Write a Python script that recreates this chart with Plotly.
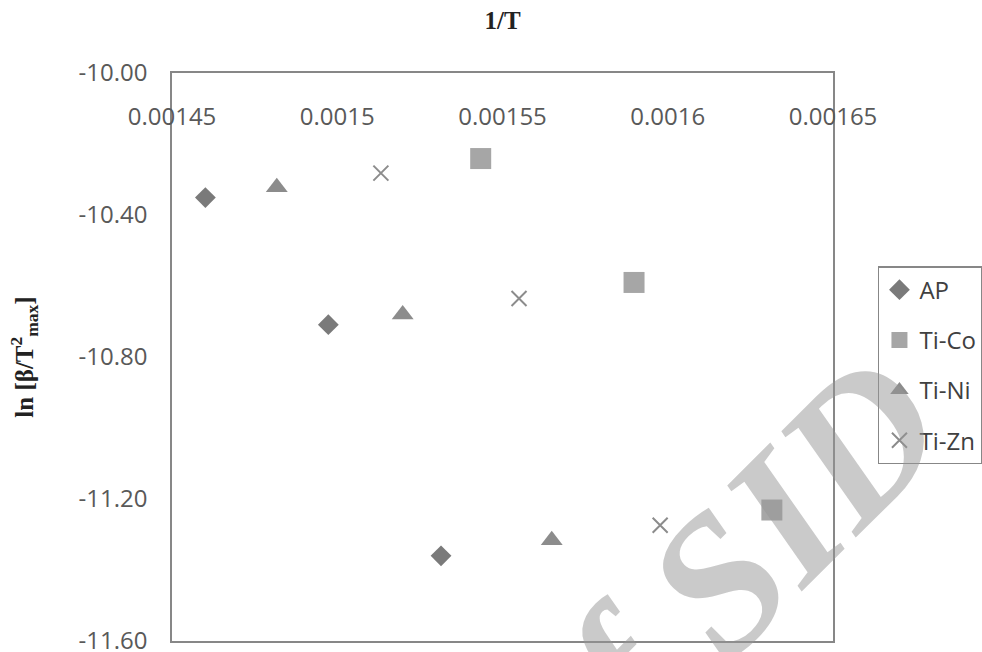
import plotly.graph_objects as go

# Kinetic data: inverse peak temperature vs ln(beta / Tmax^2)
series_names = ["AP", "Ti-Co", "Ti-Ni", "Ti-Zn"]

ap_x = [0.0014601, 0.0014973, 0.0015314]
ap_y = [-10.351, -10.709, -11.360]

tico_x = [0.0015434, 0.0015898, 0.0016315]
tico_y = [-10.241, -10.590, -11.231]

tini_x = [0.0014817, 0.0015198, 0.0015649]
tini_y = [-10.322, -10.680, -11.316]

tizn_x = [0.0015132, 0.0015550, 0.0015977]
tizn_y = [-10.282, -10.635, -11.274]

x_tick_vals = [0.00145, 0.0015, 0.00155, 0.0016, 0.00165]
x_tick_text = ["0.00145", "0.0015", "0.00155", "0.0016", "0.00165"]
y_tick_vals = [-10.0, -10.4, -10.8, -11.2, -11.6]
y_tick_text = ["-10.00", "-10.40", "-10.80", "-11.20", "-11.60"]

label_font = dict(family="Open Sans, Lato, sans-serif", size=24, color="#595959")
title_font = dict(family="Liberation Serif, Times New Roman, serif", size=25, color="#222222")
frame_color = "#878787"

fig = go.Figure()

styles = [
    dict(symbol="diamond", size=16, color="#7a7a7a"),
    dict(symbol="square", size=21, color="#a6a6a6"),
    dict(symbol="triangle-up", size=19, color="#8c8c8c"),
    dict(symbol="x-thin-open", size=15, color="#8c8c8c", line=dict(width=2, color="#8c8c8c")),
]
xs = [ap_x, tico_x, tini_x, tizn_x]
ys = [ap_y, tico_y, tini_y, tizn_y]

for name, x, y, st in zip(series_names, xs, ys, styles):
    marker = dict(symbol=st["symbol"], size=st["size"], color=st["color"])
    if "line" in st:
        marker["line"] = st["line"]
    else:
        marker["line"] = dict(width=0)
    fig.add_trace(go.Scatter(x=x, y=y, mode="markers", name=name,
                             legendgroup=name, marker=marker))

fig.update_xaxes(
    range=[0.00145, 0.00165],
    side="top",
    tickvals=x_tick_vals,
    ticktext=x_tick_text,
    ticklabelposition="inside",
    ticklabeloverflow="allow",
    ticklabelstandoff=37,
    ticks="",
    showgrid=False,
    zeroline=False,
    showline=True,
    mirror=True,
    linecolor=frame_color,
    linewidth=1.5,
    tickfont=label_font,
    title=dict(text="<b>1/T</b>", font=title_font, standoff=62),
)

fig.update_yaxes(
    range=[-11.6, -10.0],
    tickvals=y_tick_vals,
    ticktext=y_tick_text,
    ticks="",
    ticklabelstandoff=18,
    ticklabeloverflow="allow",
    showgrid=False,
    zeroline=False,
    showline=True,
    mirror=True,
    linecolor=frame_color,
    linewidth=1.5,
    tickfont=label_font,
    title=dict(text="<b>ln [β/T<sup>2</sup><sub>max</sub>]</b>", font=title_font, standoff=38),
)

# Faint archive stamp across the lower right
fig.add_annotation(
    text="<b><i>of SID</i></b>",
    xref="paper", yref="paper",
    x=0.829, y=0.107,
    xanchor="center", yanchor="middle",
    showarrow=False,
    textangle=-45,
    font=dict(family="Liberation Serif, serif", size=195, color="rgba(150,150,150,0.5)"),
)

fig.update_layout(
    width=982,
    height=652,
    margin=dict(l=172, r=149, t=73, b=11, autoexpand=False),
    paper_bgcolor="white",
    plot_bgcolor="white",
    showlegend=True,
    legend=dict(
        x=1.068, y=0.660, xanchor="left", yanchor="top",
        font=dict(family="Open Sans, Lato, sans-serif", size=24, color="#404040"),
        bordercolor=frame_color, borderwidth=1.5,
        bgcolor="rgba(255,255,255,0)",
        traceorder="grouped",
        tracegroupgap=16,
    ),
)

fig.write_html("out.html")
